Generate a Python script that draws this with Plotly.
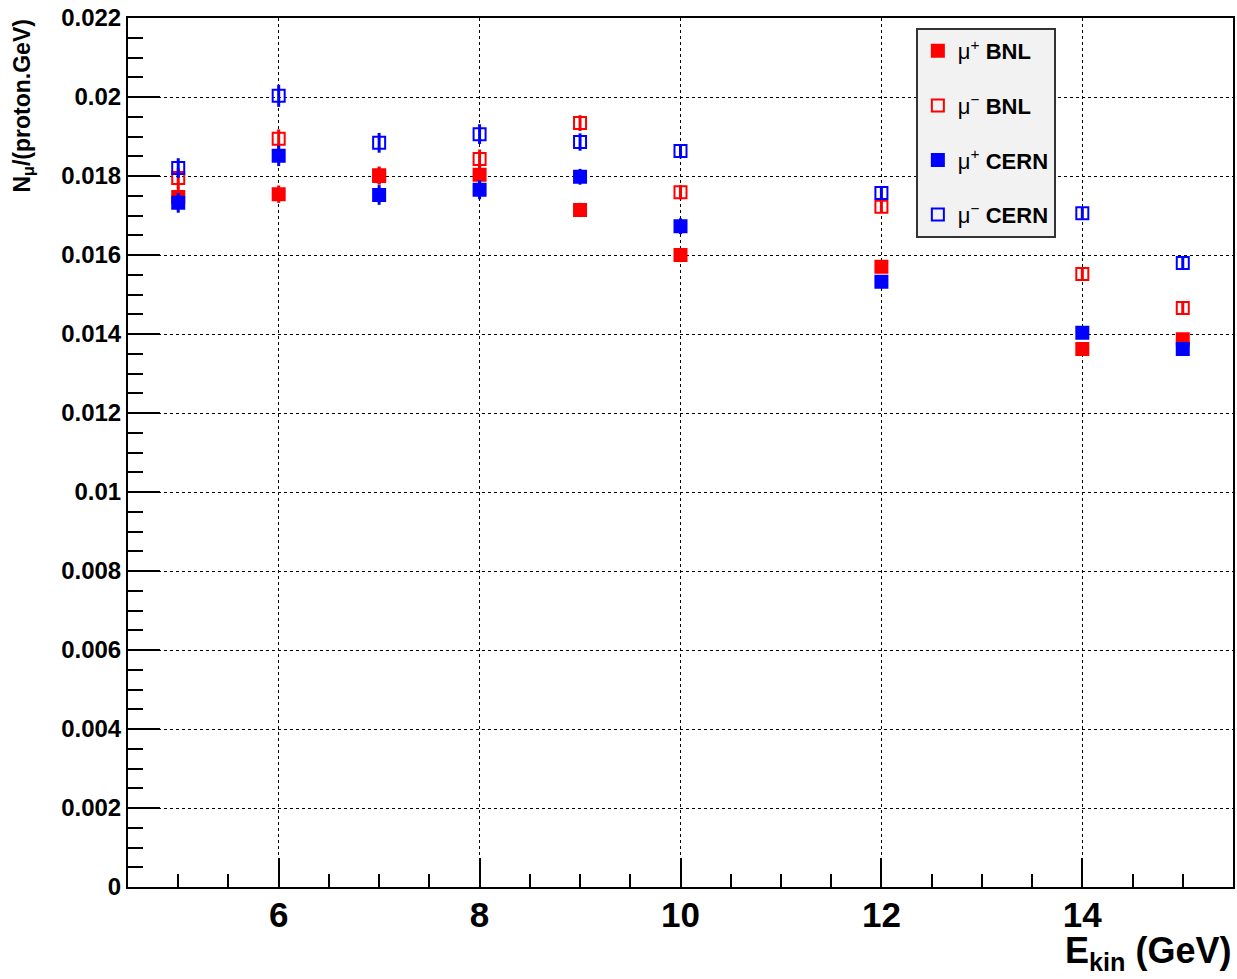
import plotly.graph_objects as go

# Data
energy = [5, 6, 7, 8, 9, 10, 12, 14, 15]

mup_bnl = [0.01747, 0.01754, 0.01802, 0.01803, 0.01714, 0.01600, 0.01570, 0.01362, 0.01387]
mup_bnl_err = [0.00025, 0.00022, 0.00022, 0.00022, 0.00018, 0.00018, 0.00015, 0.00014, 0.00014]

mum_bnl = [0.01795, 0.01894, 0.01800, 0.01843, 0.01934, 0.01759, 0.01722, 0.01552, 0.01466]
mum_bnl_err = [0.00025, 0.00024, 0.00022, 0.00024, 0.00020, 0.00018, 0.00015, 0.00014, 0.00013]

mup_cern = [0.01732, 0.01851, 0.01752, 0.01765, 0.01798, 0.01673, 0.01532, 0.01403, 0.01362]
mup_cern_err = [0.00025, 0.00026, 0.00025, 0.00024, 0.00020, 0.00020, 0.00016, 0.00014, 0.00014]

mum_cern = [0.01820, 0.02003, 0.01884, 0.01906, 0.01886, 0.01863, 0.01757, 0.01706, 0.01580]
mum_cern_err = [0.00025, 0.00028, 0.00025, 0.00025, 0.00022, 0.00018, 0.00016, 0.00014, 0.00013]

series_names = ["μ<sup>+</sup> <b>BNL</b>", "μ<sup>−</sup> <b>BNL</b>",
                "μ<sup>+</sup> <b>CERN</b>", "μ<sup>−</sup> <b>CERN</b>"]

y_tickvals = [0, 0.002, 0.004, 0.006, 0.008, 0.01, 0.012, 0.014, 0.016, 0.018, 0.02, 0.022]
y_ticktext = ["0", "0.002", "0.004", "0.006", "0.008", "0.01", "0.012", "0.014",
              "0.016", "0.018", "0.02", "0.022"]
x_tickvals = [6, 8, 10, 12, 14]
x_ticktext = ["6", "8", "10", "12", "14"]

RED = "#ff0000"
BLUE = "#0000ff"

fig = go.Figure()

specs = [
    (mup_bnl, mup_bnl_err, RED, "square"),
    (mum_bnl, mum_bnl_err, RED, "square-open"),
    (mup_cern, mup_cern_err, BLUE, "square"),
    (mum_cern, mum_cern_err, BLUE, "square-open"),
]
for i, (vals, errs, col, sym) in enumerate(specs):
    fig.add_trace(go.Scatter(
        x=energy, y=vals, mode="markers", name=series_names[i],
        legendgroup=f"g{i}",
        marker=dict(symbol=sym, size=12, color=col, line=dict(color=col, width=2)),
        error_y=dict(type="data", array=errs, visible=True, color=col, thickness=3, width=0),
    ))

fig.update_layout(
    width=1237, height=979,
    margin=dict(l=128, r=2, t=18, b=92),
    paper_bgcolor="white", plot_bgcolor="white",
    font=dict(family="Liberation Sans", color="black"),
    showlegend=True,
    legend=dict(
        x=0.713, y=0.9885, xanchor="left", yanchor="top",
        bgcolor="#f2f2f2", bordercolor="#333333", borderwidth=2,
        font=dict(size=22, family="Liberation Sans"),
        tracegroupgap=23, itemsizing="constant",
    ),
    xaxis=dict(
        range=[4.5, 15.5],
        tickmode="array", tickvals=x_tickvals, ticktext=x_ticktext,
        ticks="inside", ticklen=29, tickwidth=2, tickcolor="black",
        tickfont=dict(size=35, family="Liberation Sans", weight="bold"),
        ticklabelstandoff=-4,
        showgrid=True, gridcolor="black", griddash="dot", gridwidth=1,
        showline=True, linecolor="black", linewidth=2, mirror=True,
        zeroline=False,
        minor=dict(tickmode="linear", tick0=0, dtick=0.5, ticks="inside", ticklen=13,
                   tickcolor="black", tickwidth=2, showgrid=False),
    ),
    yaxis=dict(
        range=[0, 0.022],
        tickmode="array", tickvals=y_tickvals, ticktext=y_ticktext,
        ticks="inside", ticklen=32, tickwidth=2, tickcolor="black",
        tickfont=dict(size=24, family="Liberation Sans", weight="bold"),
        showgrid=True, gridcolor="black", griddash="dot", gridwidth=1,
        showline=True, linecolor="black", linewidth=2, mirror=True,
        zeroline=False,
        minor=dict(tickmode="linear", tick0=0, dtick=0.0005, ticks="inside", ticklen=15,
                   tickcolor="black", tickwidth=2, showgrid=False),
    ),
    annotations=[
        dict(text="<b>E<sub>kin</sub> (GeV)</b>", xref="paper", yref="paper",
             x=1.0, y=-0.105, xanchor="right", yanchor="bottom", showarrow=False,
             font=dict(size=36, family="Liberation Sans")),
        dict(text="<b>N<sub>μ</sub>/(proton.GeV)</b>", xref="paper", yref="paper",
             x=-0.095, y=1.0, xanchor="center", yanchor="top", textangle=-90,
             showarrow=False, font=dict(size=23, family="Liberation Sans")),
    ],
)

fig.write_html("out.html")
